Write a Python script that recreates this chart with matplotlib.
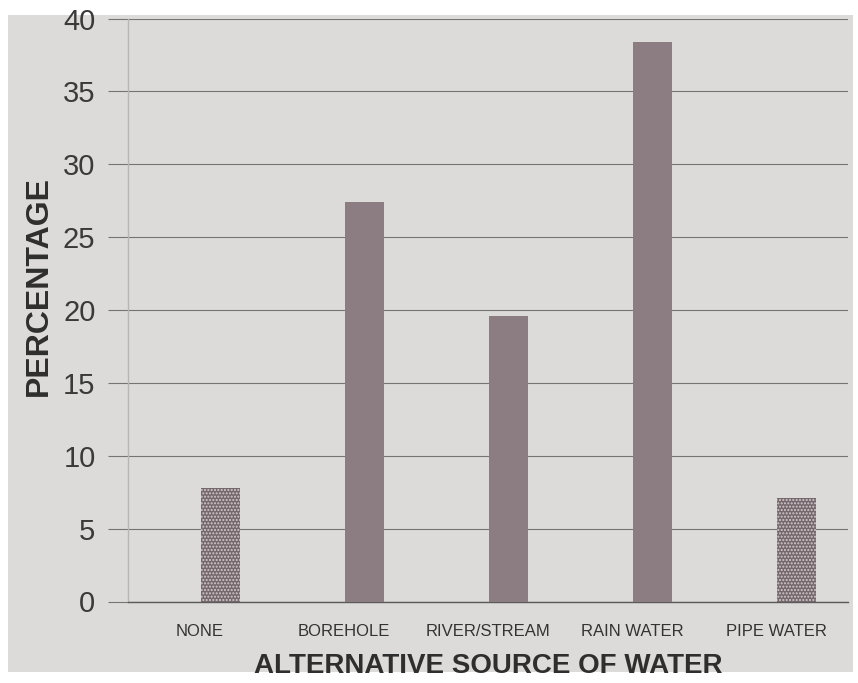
import matplotlib
matplotlib.use("Agg")
import matplotlib.pyplot as plt
from matplotlib.patches import Rectangle
import numpy as np

categories = ["NONE", "BOREHOLE", "RIVER/STREAM", "RAIN WATER", "PIPE WATER"]
percentages = [7.8, 27.4, 19.6, 38.4, 7.1]
stippled = [True, False, False, False, True]
y_ticks = [0, 5, 10, 15, 20, 25, 30, 35, 40]

plt.rcParams["font.family"] = ["Liberation Sans", "DejaVu Sans"]
plt.rcParams["hatch.linewidth"] = 1.0

fig = plt.figure(figsize=(8.58, 6.83), dpi=100)
fig.patch.set_facecolor("white")

# light grey panel behind the whole chart
fig.patches.append(Rectangle((8 / 858, 1 - 672 / 683), 845 / 858, 657 / 683,
                             transform=fig.transFigure, facecolor="#dddbd9",
                             edgecolor="none", zorder=-10))

ax = fig.add_axes([128 / 858, 1 - 601.5 / 683, 720 / 858, 583 / 683])
ax.set_facecolor("none")
ax.set_zorder(1)

x = np.arange(len(categories))
bar_x = x + 0.64
for xi, val, dots in zip(bar_x, percentages, stippled):
    if dots:
        ax.bar(xi, val, width=0.27, color="#75676c", edgecolor="#d2cbce",
               hatch=".....", linewidth=0, zorder=3)
    else:
        ax.bar(xi, val, width=0.27, color="#8c7d83", linewidth=0, zorder=3)

ax.set_xlim(0, len(categories))
ax.set_ylim(0, 40)
ax.set_yticks(y_ticks)
ax.set_yticklabels([str(t) for t in y_ticks], fontsize=21, color="#3a3a3a")
ax.yaxis.grid(True, color="#747474", linewidth=0.8, zorder=1)
ax.set_axisbelow(True)
ax.tick_params(axis="y", length=14.4, width=0.8, color="#747474", pad=9)

ax.set_xticks(x + 0.5)
ax.set_xticklabels(categories, fontsize=12, color="#333333")
ax.tick_params(axis="x", length=0, pad=16)

for side in ["top", "right"]:
    ax.spines[side].set_visible(False)
ax.spines["left"].set_color("#b8b6b4")
ax.spines["left"].set_linewidth(1.0)
ax.spines["bottom"].set_color("#5a5a5a")
ax.spines["bottom"].set_linewidth(1.0)

ax.set_xlabel("ALTERNATIVE SOURCE OF WATER", fontsize=20, fontweight="bold",
              color="#2e2e2e", labelpad=10)
ax.set_ylabel("PERCENTAGE", fontsize=23, fontweight="bold", color="#2e2e2e")
ax.yaxis.set_label_coords(-0.103, 0.542)

fig.savefig("out.png", dpi=100)
